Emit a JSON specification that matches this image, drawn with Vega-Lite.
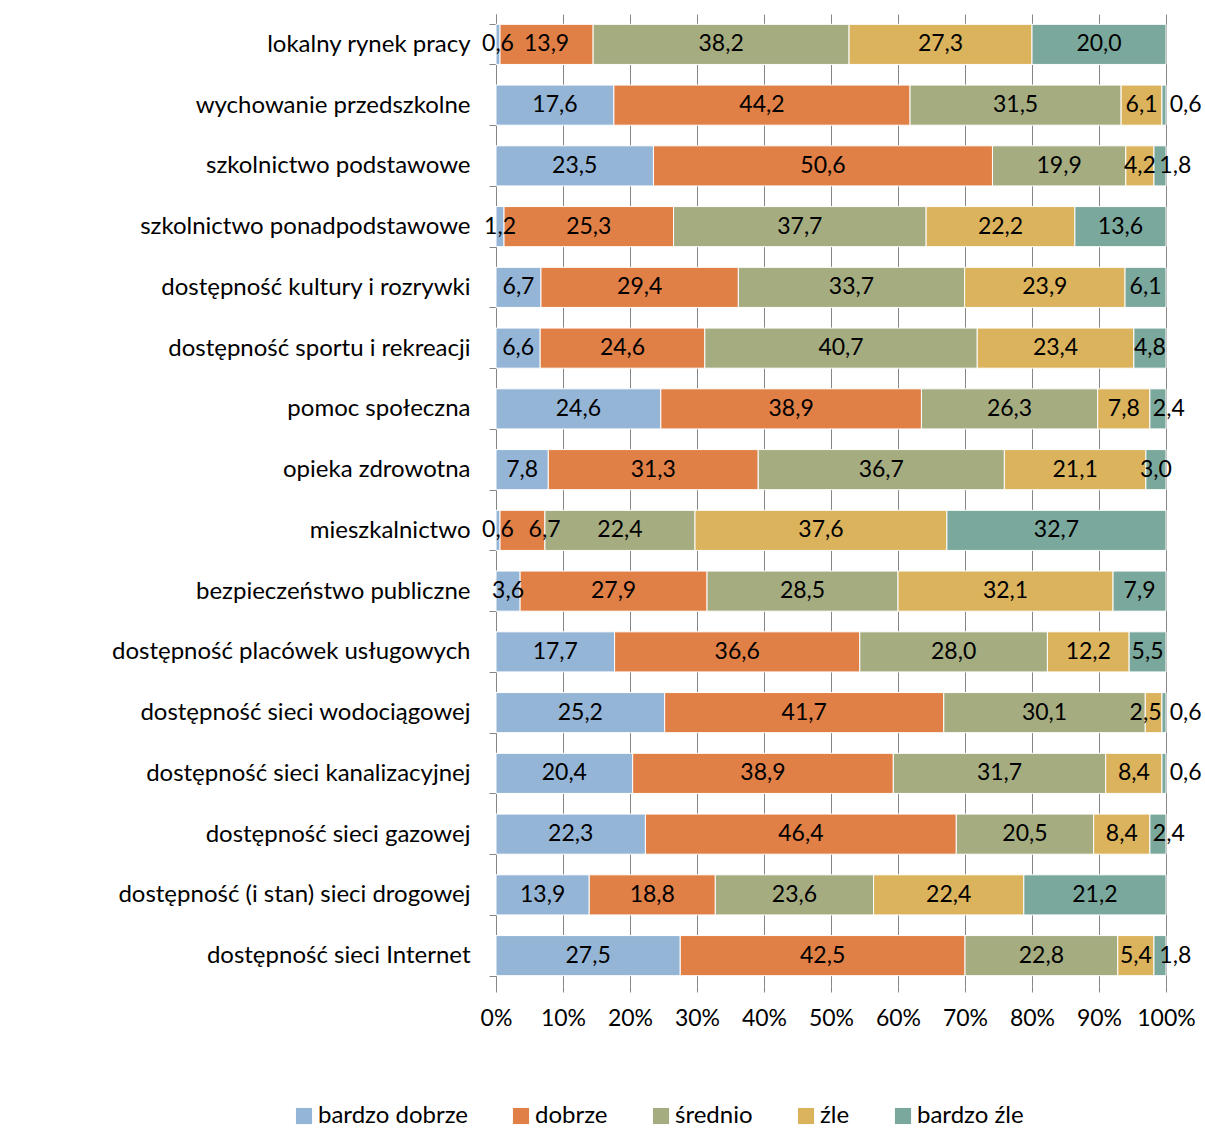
{
  "$schema": "https://vega.github.io/schema/vega-lite/v6.json",
  "autosize": "none",
  "padding": {"left": 496, "top": 14, "right": 39, "bottom": 151},
  "width": 670,
  "height": 972,
  "background": "white",
  "config": {
    "locale": {"number": {"decimal": ",", "thousands": " ", "grouping": [3], "currency": ["", " zł"]}},
    "view": {"stroke": null},
    "font": "Lato"
  },
  "data": {"values": [
    {"c": "lokalny rynek pracy", "bardzo dobrze": 0.6, "dobrze": 13.9, "średnio": 38.2, "źle": 27.3, "bardzo źle": 20.0},
    {"c": "wychowanie przedszkolne", "bardzo dobrze": 17.6, "dobrze": 44.2, "średnio": 31.5, "źle": 6.1, "bardzo źle": 0.6},
    {"c": "szkolnictwo podstawowe", "bardzo dobrze": 23.5, "dobrze": 50.6, "średnio": 19.9, "źle": 4.2, "bardzo źle": 1.8},
    {"c": "szkolnictwo ponadpodstawowe", "bardzo dobrze": 1.2, "dobrze": 25.3, "średnio": 37.7, "źle": 22.2, "bardzo źle": 13.6},
    {"c": "dostępność kultury i rozrywki", "bardzo dobrze": 6.7, "dobrze": 29.4, "średnio": 33.7, "źle": 23.9, "bardzo źle": 6.1},
    {"c": "dostępność sportu i rekreacji", "bardzo dobrze": 6.6, "dobrze": 24.6, "średnio": 40.7, "źle": 23.4, "bardzo źle": 4.8},
    {"c": "pomoc społeczna", "bardzo dobrze": 24.6, "dobrze": 38.9, "średnio": 26.3, "źle": 7.8, "bardzo źle": 2.4},
    {"c": "opieka zdrowotna", "bardzo dobrze": 7.8, "dobrze": 31.3, "średnio": 36.7, "źle": 21.1, "bardzo źle": 3.0},
    {"c": "mieszkalnictwo", "bardzo dobrze": 0.6, "dobrze": 6.7, "średnio": 22.4, "źle": 37.6, "bardzo źle": 32.7},
    {"c": "bezpieczeństwo publiczne", "bardzo dobrze": 3.6, "dobrze": 27.9, "średnio": 28.5, "źle": 32.1, "bardzo źle": 7.9},
    {"c": "dostępność placówek usługowych", "bardzo dobrze": 17.7, "dobrze": 36.6, "średnio": 28.0, "źle": 12.2, "bardzo źle": 5.5},
    {"c": "dostępność sieci wodociągowej", "bardzo dobrze": 25.2, "dobrze": 41.7, "średnio": 30.1, "źle": 2.5, "bardzo źle": 0.6},
    {"c": "dostępność sieci kanalizacyjnej", "bardzo dobrze": 20.4, "dobrze": 38.9, "średnio": 31.7, "źle": 8.4, "bardzo źle": 0.6},
    {"c": "dostępność sieci gazowej", "bardzo dobrze": 22.3, "dobrze": 46.4, "średnio": 20.5, "źle": 8.4, "bardzo źle": 2.4},
    {"c": "dostępność (i stan) sieci drogowej", "bardzo dobrze": 13.9, "dobrze": 18.8, "średnio": 23.6, "źle": 22.4, "bardzo źle": 21.2},
    {"c": "dostępność sieci Internet", "bardzo dobrze": 27.5, "dobrze": 42.5, "średnio": 22.8, "źle": 5.4, "bardzo źle": 1.8}
  ]},
  "transform": [
    {"fold": ["bardzo dobrze", "dobrze", "średnio", "źle", "bardzo źle"], "as": ["s", "v"]},
    {"calculate": "indexof(['bardzo dobrze','dobrze','średnio','źle','bardzo źle'], datum.s)", "as": "o"},
    {"stack": "v", "groupby": ["c"], "sort": [{"field": "o"}], "offset": "normalize", "as": ["v0", "v1"]},
    {"calculate": "(datum.v0 + datum.v1) / 2", "as": "m"},
    {"calculate": "datum.o == 4 ? datum.m + sqrt(max(0, 3 - datum.v)) * 0.0209 : (datum.o == 1 && datum.v < 8 ? datum.m + 0.033 : (datum.o == 3 && datum.v < 3 ? datum.m - 0.012 : datum.m))", "as": "lx"}
  ],
  "encoding": {
    "y": {
      "field": "c", "type": "nominal", "sort": null,
      "scale": {"paddingInner": 0.34, "paddingOuter": 0.17},
      "axis": {
        "title": null, "tickBand": "extent", "labelFontSize": 24, "labelColor": "#000000",
        "labelPadding": 19, "tickSize": 7, "tickColor": "#868686", "domainColor": "#868686",
        "labelFont": "Lato", "labelLimit": 500
      }
    }
  },
  "layer": [
    {
      "mark": {"type": "bar", "stroke": "white", "strokeWidth": 1},
      "encoding": {
        "x": {
          "field": "v0", "type": "quantitative", "scale": {"domain": [0, 1], "nice": false},
          "axis": {
            "title": null, "format": ".0%", "values": [0, 0.1, 0.2, 0.3, 0.4, 0.5, 0.6, 0.7, 0.8, 0.9, 1],
            "grid": true, "gridColor": "#868686", "gridOpacity": 1, "domain": false,
            "labelOverlap": false, "labelFlush": false,
            "tickSize": 6, "tickColor": "#868686", "labelFontSize": 23, "labelColor": "#000000",
            "labelPadding": 15, "labelFont": "Lato"
          }
        },
        "x2": {"field": "v1"},
        "color": {
          "field": "s", "type": "nominal",
          "scale": {
            "domain": ["bardzo dobrze", "dobrze", "średnio", "źle", "bardzo źle"],
            "range": ["#95B5D6", "#E07F46", "#A5AC80", "#DBB35C", "#7BA89C"]
          },
          "legend": {
            "title": null, "orient": "none", "direction": "horizontal", "legendX": -204, "legendY": 1090,
            "symbolType": "square", "symbolSize": 260, "symbolStrokeWidth": 0, "labelFontSize": 24,
            "labelColor": "#000000", "columnPadding": 41, "labelOffset": 2, "labelFont": "Lato"
          }
        }
      }
    },
    {
      "mark": {"type": "text", "fontSize": 23, "color": "#000000", "font": "Lato"},
      "encoding": {
        "x": {"field": "lx", "type": "quantitative"},
        "text": {"field": "v", "type": "quantitative", "format": ".1f"}
      }
    }
  ]
}
